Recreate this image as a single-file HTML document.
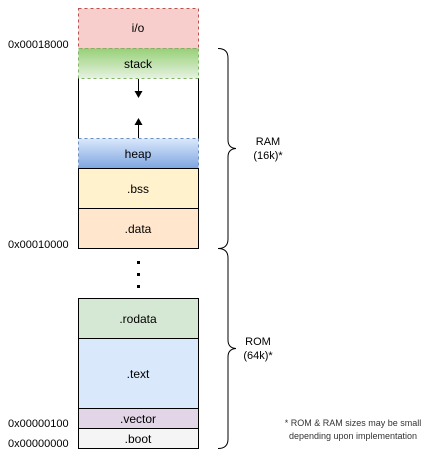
<!DOCTYPE html>
<html><head><meta charset="utf-8"><style>
html,body{margin:0;padding:0;background:#fff;}
svg{display:block;}
text{font-family:"Liberation Sans",Arial,sans-serif;font-size:12px;fill:#000;}
.s{font-size:11px;}
.f{font-size:9px;fill:#333;}
</style></head><body>
<svg width="442" height="462" viewBox="0 0 442 462" xmlns="http://www.w3.org/2000/svg">
<defs>
<linearGradient id="gs" x1="0" y1="0" x2="0" y2="1"><stop offset="0" stop-color="#97d077"/><stop offset="1" stop-color="#e6f2e1"/></linearGradient>
<linearGradient id="gh" x1="0" y1="0" x2="0" y2="1"><stop offset="0" stop-color="#dae8fc"/><stop offset="1" stop-color="#7ea6e0"/></linearGradient>
</defs>
<!-- white region sides -->
<line x1="78.5" y1="78" x2="78.5" y2="139" stroke="#000"/>
<line x1="198.5" y1="78" x2="198.5" y2="139" stroke="#000"/>
<rect x="78.5" y="8.5" width="120" height="40" fill="#f8cecc" stroke="#b85450" stroke-dasharray="3 3"/>
<rect x="78.5" y="48.5" width="120" height="30" fill="url(#gs)" stroke="#82b366" stroke-dasharray="3 3"/>
<rect x="78.5" y="138.5" width="120" height="30" fill="url(#gh)" stroke="#6c8ebf" stroke-dasharray="3 3"/>
<rect x="78.5" y="168.5" width="120" height="40" fill="#fff2cc" stroke="#000"/>
<rect x="78.5" y="208.5" width="120" height="40" fill="#ffe6cc" stroke="#000"/>
<rect x="78.5" y="298.5" width="120" height="40" fill="#d5e8d4" stroke="#000"/>
<rect x="78.5" y="338.5" width="120" height="70" fill="#dae8fc" stroke="#000"/>
<rect x="78.5" y="408.5" width="120" height="20" fill="#e1d5e7" stroke="#000"/>
<rect x="78.5" y="428.5" width="120" height="20" fill="#f5f5f5" stroke="#000"/>
<text x="138" y="32" text-anchor="middle">i/o</text>
<text x="138" y="68" text-anchor="middle">stack</text>
<text x="138" y="158" text-anchor="middle">heap</text>
<text x="138" y="193" text-anchor="middle">.bss</text>
<text x="138" y="233" text-anchor="middle">.data</text>
<text x="138" y="323" text-anchor="middle">.rodata</text>
<text x="138" y="378" text-anchor="middle">.text</text>
<text x="138" y="423" text-anchor="middle">.vector</text>
<text x="138" y="443" text-anchor="middle">.boot</text>
<!-- arrows -->
<line x1="138.5" y1="79" x2="138.5" y2="92" stroke="#000"/>
<path d="M134.5,91 L142.5,91 L138.5,98 Z" fill="#000"/>
<line x1="138.5" y1="138" x2="138.5" y2="124" stroke="#000"/>
<path d="M134.5,125 L142.5,125 L138.5,118 Z" fill="#000"/>
<!-- dots -->
<rect x="137" y="261" width="3" height="3" fill="#000"/>
<rect x="137" y="273" width="3" height="3" fill="#000"/>
<rect x="137" y="285" width="3" height="3" fill="#000"/>
<!-- braces -->
<path d="M218,48.5 Q228,48.5 228,58 L228,140 Q228,148 236,148.5 M236,148.5 Q228,149 228,157 L228,239 Q228,248.5 218,248.5" fill="none" stroke="#000"/>
<path d="M218,248.5 Q228,248.5 228,258 L228,340 Q228,348 236,348.5 M236,348.5 Q228,349 228,357 L228,439 Q228,448.5 218,448.5" fill="none" stroke="#000"/>
<text class="s" x="268" y="145" text-anchor="middle">RAM</text>
<text class="s" x="268" y="159" text-anchor="middle">(16k)*</text>
<text class="s" x="258" y="345" text-anchor="middle">ROM</text>
<text class="s" x="258" y="359" text-anchor="middle">(64k)*</text>
<text class="s" x="8" y="48">0x00018000</text>
<text class="s" x="8" y="248">0x00010000</text>
<text class="s" x="8" y="427">0x00000100</text>
<text class="s" x="8" y="447">0x00000000</text>
<text class="f" x="353" y="426" text-anchor="middle">* ROM &amp; RAM sizes may be small</text>
<text class="f" x="353" y="439" text-anchor="middle">depending upon implementation</text>
</svg>
</body></html>
